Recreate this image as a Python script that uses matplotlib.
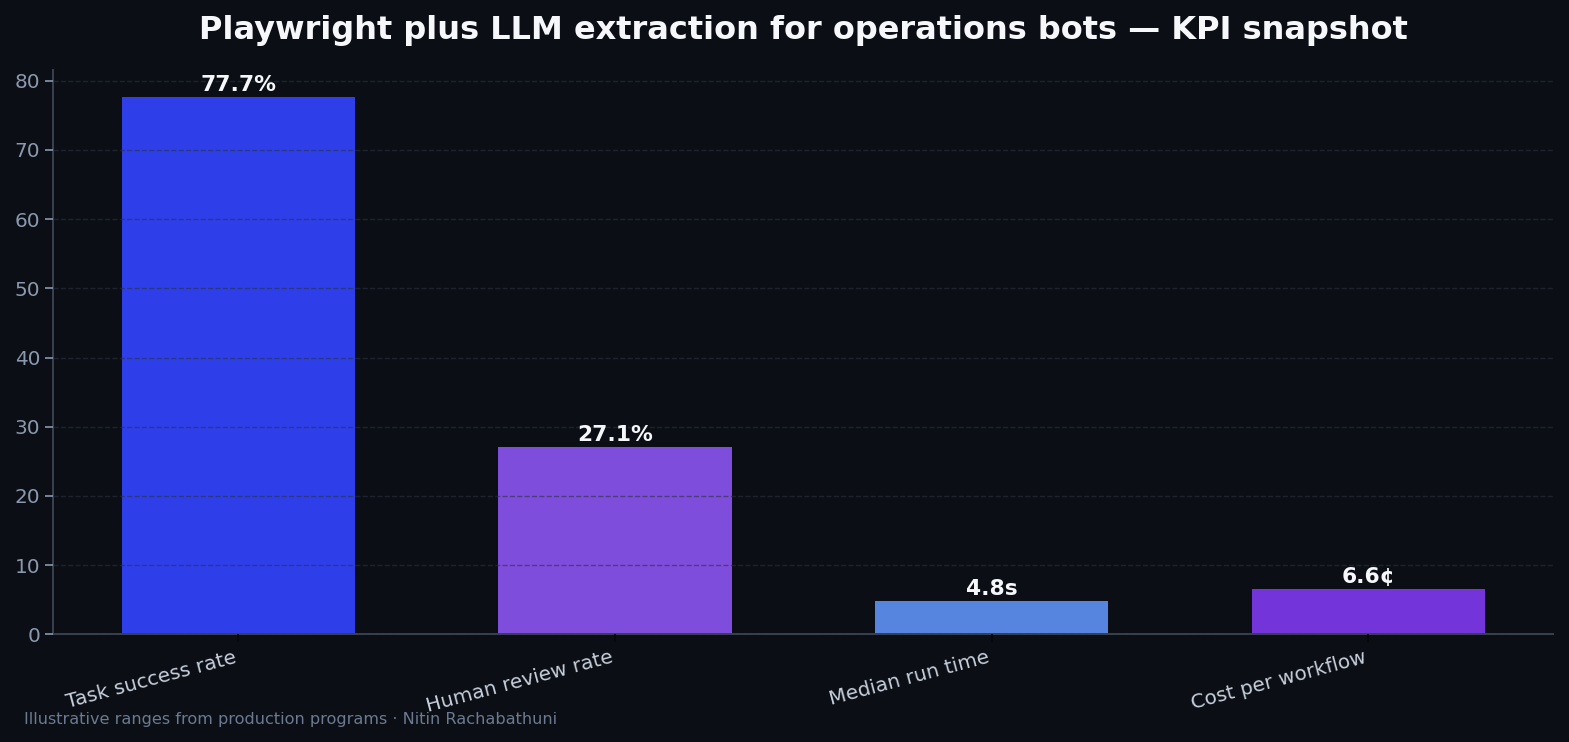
import matplotlib
matplotlib.use("Agg")
import matplotlib.pyplot as plt

categories = ["Task success rate", "Human review rate", "Median run time", "Cost per workflow"]
values = [77.7, 27.1, 4.8, 6.6]
labels = ["77.7%", "27.1%", "4.8s", "6.6¢"]
colors = ["#2E3FEA", "#7F4DDB", "#5585DF", "#7335D9"]
title = "Playwright plus LLM extraction for operations bots — KPI snapshot"
footer = "Illustrative ranges from production programs · Nitin Rachabathuni"

bg = "#0B0E14"
fig = plt.figure(figsize=(15.69, 7.42), dpi=100, facecolor=bg)
ax = fig.add_axes([0.034, 0.145, 0.956, 0.761])
ax.set_facecolor(bg)

x = list(range(len(categories)))
bars = ax.bar(x, values, width=0.62, color=colors, zorder=1)
ax.set_ylim(0, max(values) * 1.05)
ax.set_yticks(range(0, 81, 10))
ax.grid(axis="y", color="#2A3140", alpha=0.6, linestyle="--", linewidth=1.0, zorder=2)
ax.set_axisbelow(False)

for xi, v, lab in zip(x, values, labels):
    ax.text(xi, v + 0.3, lab, ha="center", va="bottom", color="#F5F7FA",
            fontsize=15.7, fontweight="bold", zorder=3)

ax.set_xticks(x)
ax.set_xticklabels(categories, rotation=15, ha="right", color="#C8D0DC", fontsize=14.4)
ax.tick_params(axis="x", colors="#05070a", labelcolor="#C8D0DC", length=6, width=1.2)
ax.tick_params(axis="y", colors="#8B98AD", labelsize=14.4, length=6, width=1.2)
for s in ["top", "right"]:
    ax.spines[s].set_visible(False)
for s in ["left", "bottom"]:
    ax.spines[s].set_color("#3A4250")
    ax.spines[s].set_linewidth(1.4)

ax.set_title(title, color="#F5F7FA", fontsize=23, fontweight="bold", pad=22)
fig.text(0.015, 0.03, footer, ha="left", va="center", color="#6B7A90", fontsize=11.6)

fig.savefig("out.png", dpi=100, facecolor=bg)
